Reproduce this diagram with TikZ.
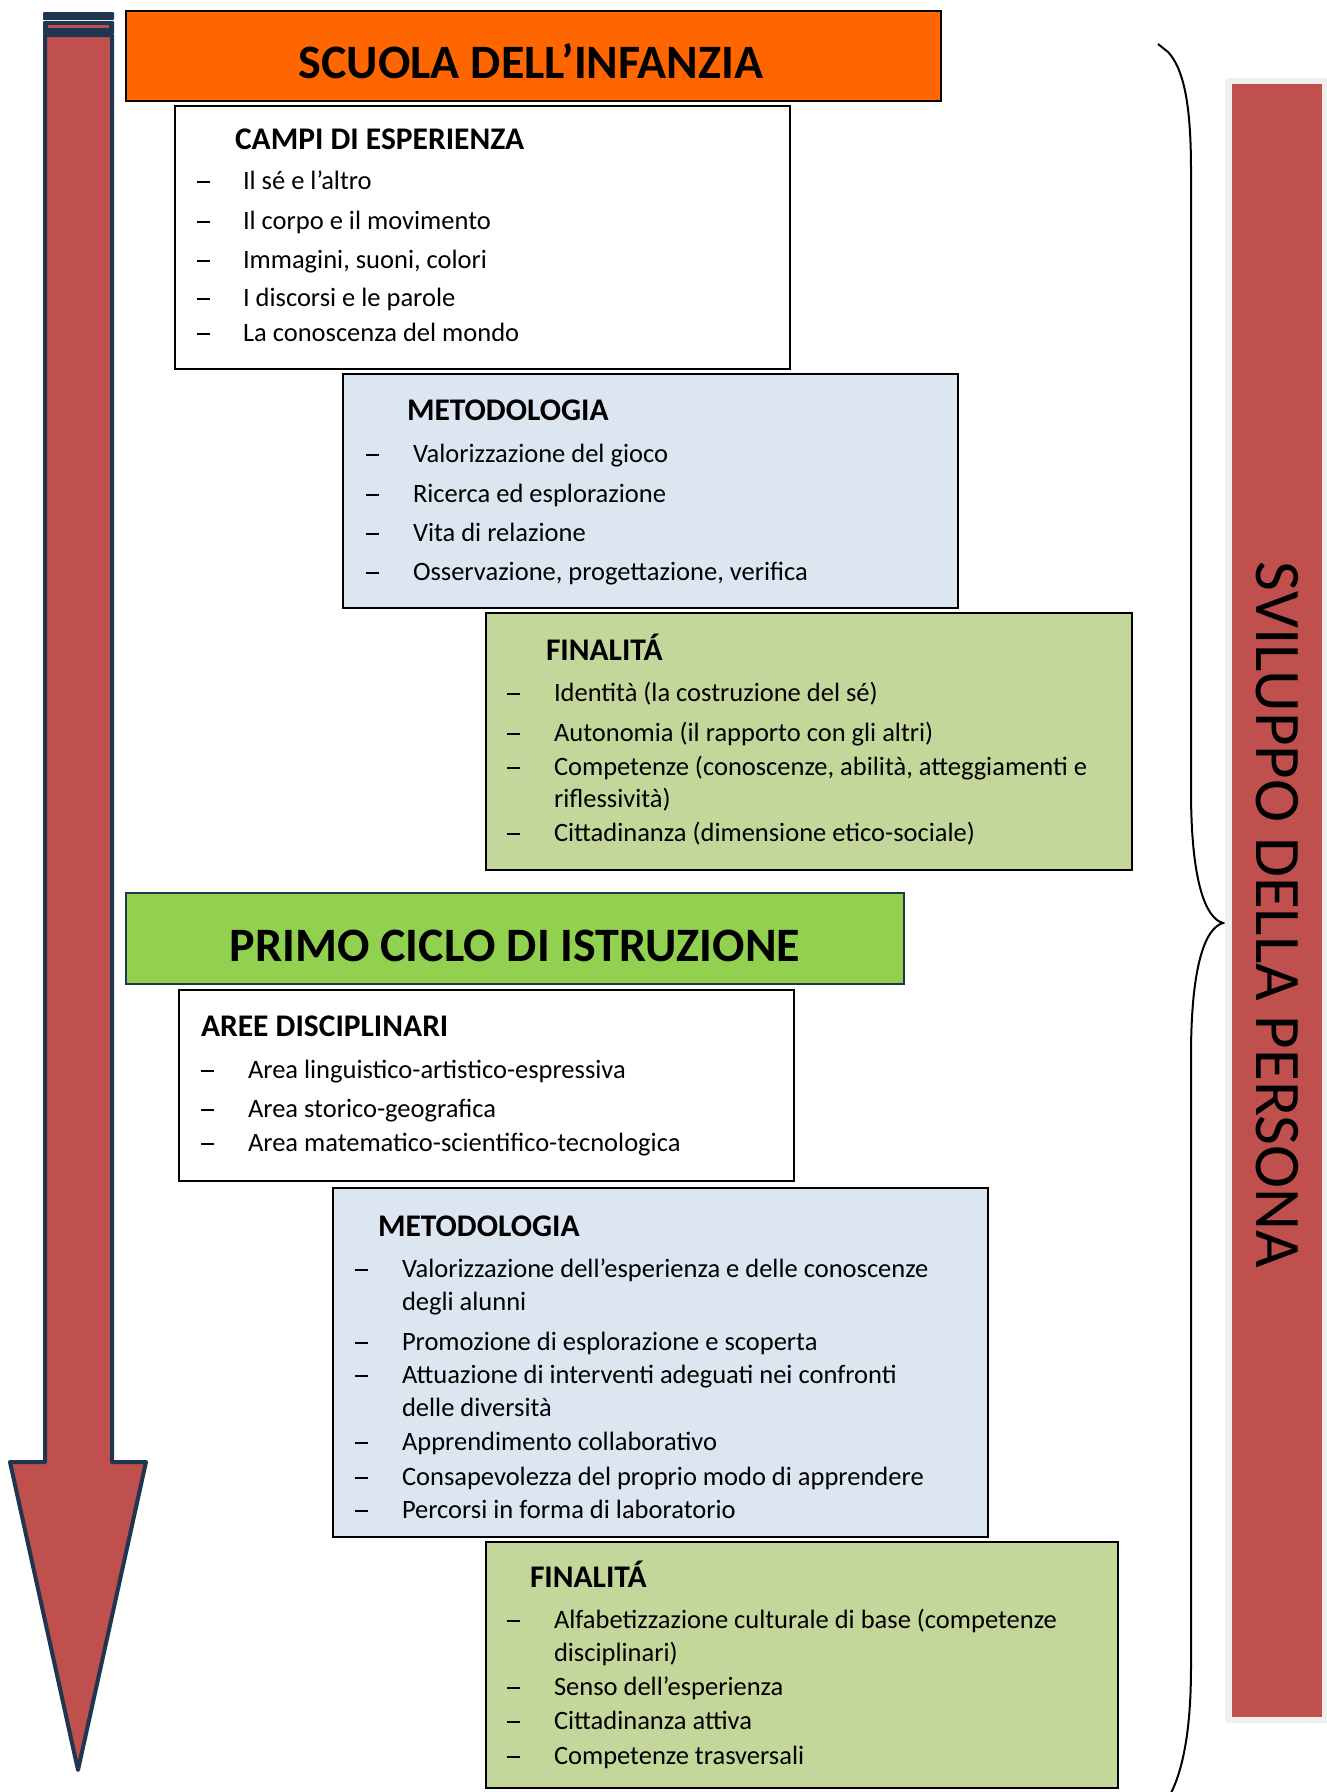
\documentclass[tikz,border=0pt]{standalone}
\usepackage{fontspec}
\setmainfont{Carlito}
\definecolor{arancio}{HTML}{FF6600}
\definecolor{verde}{HTML}{92D050}
\definecolor{azzurro}{HTML}{DCE6F1}
\definecolor{oliva}{HTML}{C4D79B}
\definecolor{rosso}{HTML}{C0504D}
\definecolor{blu}{HTML}{1F3550}
\definecolor{grigio}{HTML}{EFEFEF}
\newcommand{\corpo}{\fontsize{26.5}{32}\selectfont}
\newcommand{\testata}{\fontsize{31.5}{36}\selectfont\bfseries}
\newcommand{\grande}{\fontsize{48}{54}\selectfont\bfseries}
\newcommand{\trattino}{\rule[6.5pt]{13pt}{1.3pt}}
\begin{document}
\begin{tikzpicture}
  [x=1pt,y=-1pt,every node/.style={inner sep=0pt,outer sep=0pt},
   riquadro/.style={draw=black,line width=2pt,anchor=north west},
   testa/.style={anchor=base west,font=\testata},
   voce/.style={anchor=base west,font=\corpo},
   lato/.style={font=\fontsize{65}{70}\selectfont,rotate=-90}]
  \useasboundingbox[fill=white] (0,0) rectangle (1327,1792);

  % freccia
  \draw[blu,line width=4pt,fill=rosso,line join=round]
    (45,35) -- (112,35) -- (112,1462) -- (146,1462) -- (78,1770) -- (10,1462) -- (45,1462) -- cycle;
  \fill[blu,rounded corners=1pt] (43,12) rectangle (114,20);
  \fill[blu,rounded corners=1pt] (43,21) rectangle (114,34);
  \fill[rosso] (48,25) rectangle (109,28);

  % parentesi
  \draw[line width=2pt] (1158,44) -- (1168,52) .. controls (1185,70) and (1191,110) .. (1191,170)
    -- (1191,790) .. controls (1191,880) and (1205,918) .. (1223,923)
    .. controls (1205,928) and (1191,966) .. (1191,1056)
    -- (1191,1667) .. controls (1191,1730) and (1183,1770) .. (1170,1795);

  % barra laterale
  \node[fill=grigio,rounded corners=4pt,anchor=north west,minimum width=110pt,minimum height=1645pt] (cornice) at (1225,78) {};
  \node[fill=rosso,anchor=north west,minimum width=90pt,minimum height=1633pt] (barra) at (1232,84) {};
  \node[lato] (sviluppo) at (1277,915) {SVILUPPO DELLA PERSONA};

  % scuola dell'infanzia
  \node[riquadro,fill=arancio,minimum width=815pt,minimum height=90pt] (infanzia) at (126,11) {};
  \node[font=\grande,anchor=base] (tinfanzia) at (531,78) {SCUOLA DELL’INFANZIA};

  \node[riquadro,fill=white,minimum width=615pt,minimum height=263pt] (campi) at (175,106) {};
  \node[testa] (tcampi) at (235,149) {CAMPI DI ESPERIENZA};
  \foreach \y/\d/\t in {189/\trattino/{Il sé e l’altro}, 229/\trattino/{Il corpo e il movimento},
      268/\trattino/{Immagini, suoni, colori}, 306/\trattino/{I discorsi e le parole}, 341/\trattino/{La conoscenza del mondo}}
  { \node[voce] (cd\y) at (197,\y) {\d};
    \node[voce] (cv\y) at (243,\y) {\t}; }

  \node[riquadro,fill=azzurro,minimum width=615pt,minimum height=234pt] (meto1) at (343,374) {};
  \node[testa] (tmeto1) at (407,420) {METODOLOGIA};
  \foreach \y/\d/\t in {462/\trattino/{Valorizzazione del gioco}, 502/\trattino/{Ricerca ed esplorazione},
      541/\trattino/{Vita di relazione}, 580/\trattino/{Osservazione, progettazione, verifica}}
  { \node[voce] (md\y) at (366,\y) {\d};
    \node[voce] (mv\y) at (413,\y) {\t}; }

  \node[riquadro,fill=oliva,minimum width=646pt,minimum height=257pt] (fin1) at (486,613) {};
  \node[testa] (tfin1) at (546,660) {FINALITÁ};
  \foreach \y/\d/\t in {701/\trattino/{Identità (la costruzione del sé)}, 741/\trattino/{Autonomia (il rapporto con gli altri)},
      775/\trattino/{Competenze (conoscenze, abilità, atteggiamenti e}, 807//{riflessività)},
      841/\trattino/{Cittadinanza (dimensione etico-sociale)}}
  { \node[voce] (fd\y) at (507,\y) {\d};
    \node[voce] (fv\y) at (554,\y) {\t}; }

  % primo ciclo
  \node[riquadro,draw=blu,fill=verde,minimum width=778pt,minimum height=91pt] (primo) at (126,893) {};
  \node[font=\grande,anchor=base] (tprimo) at (515,961) {PRIMO CICLO DI ISTRUZIONE};

  \node[riquadro,fill=white,minimum width=615pt,minimum height=191pt] (aree) at (179,990) {};
  \node[testa] (taree) at (201,1036) {AREE DISCIPLINARI};
  \foreach \y/\d/\t in {1078/\trattino/{Area linguistico-artistico-espressiva}, 1117/\trattino/{Area storico-geografica},
      1151/\trattino/{Area matematico-scientifico-tecnologica}}
  { \node[voce] (ad\y) at (201,\y) {\d};
    \node[voce] (av\y) at (248,\y) {\t}; }

  \node[riquadro,fill=azzurro,minimum width=655pt,minimum height=349pt] (meto2) at (333,1188) {};
  \node[testa] (tmeto2) at (378,1236) {METODOLOGIA};
  \foreach \y/\d/\t in {1277/\trattino/{Valorizzazione dell’esperienza e delle conoscenze}, 1310//{degli alunni},
      1350/\trattino/{Promozione di esplorazione e scoperta}, 1383/\trattino/{Attuazione di interventi adeguati nei confronti},
      1416//{delle diversità}, 1450/\trattino/{Apprendimento collaborativo},
      1485/\trattino/{Consapevolezza del proprio modo di apprendere}, 1518/\trattino/{Percorsi in forma di laboratorio}}
  { \node[voce] (nd\y) at (355,\y) {\d};
    \node[voce] (nv\y) at (402,\y) {\t}; }

  \node[riquadro,fill=oliva,minimum width=632pt,minimum height=246pt] (fin2) at (486,1542) {};
  \node[testa] (tfin2) at (530,1587) {FINALITÁ};
  \foreach \y/\d/\t in {1628/\trattino/{Alfabetizzazione culturale di base (competenze}, 1661//{disciplinari)},
      1695/\trattino/{Senso dell’esperienza}, 1729/\trattino/{Cittadinanza attiva}, 1764/\trattino/{Competenze trasversali}}
  { \node[voce] (gd\y) at (507,\y) {\d};
    \node[voce] (gv\y) at (554,\y) {\t}; }
\end{tikzpicture}
\end{document}
